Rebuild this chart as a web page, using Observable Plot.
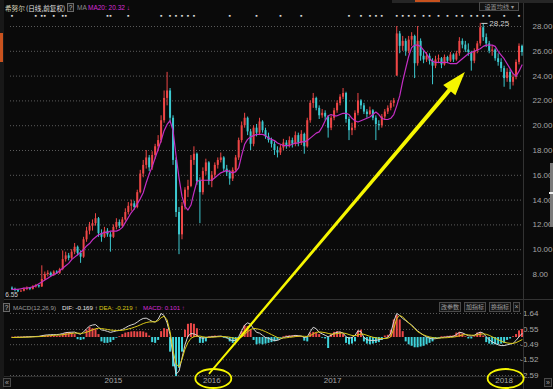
<!DOCTYPE html>
<html><head><meta charset="utf-8">
<script src="https://cdn.jsdelivr.net/npm/d3@7"></script>
<script src="https://cdn.jsdelivr.net/npm/@observablehq/plot@0.6"></script>
<style>
html,body{margin:0;padding:0;background:#0a0a0a;}
#wrap{position:relative;width:553px;height:389px;overflow:hidden;background:#0a0a0a;font-family:"Liberation Sans",Arial,sans-serif;}
.t{position:absolute;white-space:nowrap;line-height:1;}
.box{position:absolute;border:1px solid #4a4a4a;background:#151515;color:#a0a0a0;box-sizing:border-box;text-align:center;white-space:nowrap;}
.q{border-color:#6a6a6a;color:#c0c0c0;background:#1a1a1a;}
#wrap svg{position:absolute;left:0;}
</style></head><body><div id="wrap"></div>
<script>
// ---------- data (one entry per candle) ----------
const open = [6.9,6.8,6.7,6.6,6.65,6.8,6.9,6.8,7.0,7.1,
7.0,7.6,8.0,8.1,7.9,8.2,8.1,8.4,9.2,9.5,
9.3,9.8,10.2,9.7,9.4,10.8,11.5,11.9,12.1,12.5,
11.3,11.0,11.5,11.2,11.0,11.8,12.2,11.9,12.4,13.0,
13.5,13.7,13.4,14.6,16.1,16.8,17.4,16.6,17.6,18.3,
18.8,20.4,22.2,22.8,20.6,17.2,13.0,11.2,13.5,14.8,
15.1,17.2,17.7,15.5,14.6,16.3,17.0,15.5,16.0,16.8,
17.2,17.4,16.5,16.2,15.7,16.4,17.4,18.8,20.0,20.6,
19.5,18.5,19.8,19.4,20.3,19.6,19.1,18.8,18.5,18.0,
17.8,18.2,18.6,18.4,18.8,18.5,19.2,18.6,19.3,18.3,
20.4,21.8,22.2,21.4,20.8,21.0,20.7,19.8,20.6,21.2,
21.8,22.3,22.6,20.5,19.6,19.8,21.0,22.0,21.6,21.1,
20.9,21.2,20.6,20.1,20.0,20.7,21.1,21.4,21.8,24.0,
27.4,26.4,26.8,26.0,26.9,27.2,25.0,26.8,25.6,25.3,
25.6,25.2,24.8,25.3,25.4,24.9,25.5,25.2,25.7,25.3,
25.8,26.8,26.5,26.1,25.9,25.2,26.0,26.6,27.9,27.1,
26.6,26.0,26.1,25.4,25.1,24.6,23.8,24.3,23.5,23.9,
25.1,26.4];
const close = [6.8,6.7,6.6,6.65,6.8,6.9,6.8,7.0,7.1,7.0,
7.6,8.0,8.1,7.9,8.2,8.1,8.4,9.2,9.5,9.3,
9.8,10.2,9.7,9.4,10.8,11.5,11.9,12.1,12.5,11.3,
11.0,11.5,11.2,11.0,11.8,12.2,11.9,12.4,13.0,13.5,
13.7,13.4,14.6,16.1,16.8,17.4,16.6,17.6,18.3,18.8,
20.4,22.2,22.8,20.6,17.2,13.0,11.2,13.5,14.8,15.1,
17.2,17.7,15.5,14.6,16.3,17.0,15.5,16.0,16.8,17.2,
17.4,16.5,16.2,15.7,16.4,17.4,18.8,20.0,20.6,19.5,
18.5,19.8,19.4,20.3,19.6,19.1,18.8,18.5,18.0,17.8,
18.2,18.6,18.4,18.8,18.5,19.2,18.6,19.3,18.3,20.4,
21.8,22.2,21.4,20.8,21.0,20.7,19.8,20.6,21.2,21.8,
22.3,22.6,20.5,19.6,19.8,21.0,22.0,21.6,21.1,20.9,
21.2,20.6,20.1,20.0,20.7,21.1,21.4,21.8,22.0,27.4,
26.4,26.8,26.0,26.9,27.2,25.0,26.8,25.6,25.3,25.6,
25.2,24.8,25.3,25.4,24.9,25.5,25.2,25.7,25.3,25.8,
26.8,26.5,26.1,25.9,25.2,26.0,26.6,27.9,27.1,26.6,
26.0,26.1,25.4,25.1,24.6,23.8,24.3,23.5,23.9,25.1,
26.4,25.9];
const high = [7.0,6.9,6.8,6.75,6.9,7.0,6.95,7.1,7.2,7.15,
8.7,8.2,8.3,8.2,8.3,8.3,8.5,9.9,9.8,9.7,
10.0,10.5,10.3,9.9,11.0,11.8,12.2,12.4,12.9,12.6,
11.6,11.8,11.7,11.4,12.0,12.5,12.4,12.6,13.3,13.8,
14.0,13.9,14.8,16.4,17.2,18.0,17.6,17.9,18.5,19.2,
20.8,22.8,24.3,23.0,20.8,17.4,13.4,13.8,15.0,15.6,
17.6,18.3,17.8,15.8,16.6,17.3,17.1,16.3,17.0,17.4,
17.8,17.5,16.8,16.4,16.6,17.6,19.0,20.3,21.0,20.7,
19.7,20.0,20.1,20.6,20.4,19.8,19.4,19.0,18.7,18.3,
18.4,18.9,18.8,19.1,19.0,19.5,19.4,19.6,19.4,20.6,
22.0,22.6,22.3,21.6,21.3,21.2,20.8,20.8,21.4,22.0,
22.5,23.0,22.7,20.7,20.2,21.2,22.6,22.1,21.8,21.3,
21.5,21.3,20.8,20.4,20.9,21.3,21.6,22.0,22.2,28.0,
27.6,27.2,27.0,27.2,27.5,27.3,28.0,27.0,26.0,25.9,
25.8,25.4,25.6,25.7,25.5,25.7,25.6,25.9,25.8,26.0,
27.1,27.0,26.8,26.6,26.0,26.2,26.8,28.25,28.2,27.4,
26.8,26.4,26.2,25.8,25.4,24.8,24.6,24.5,24.2,25.3,
26.6,26.5];
const low = [6.7,6.6,6.55,6.55,6.6,6.7,6.7,6.75,6.9,6.9,
6.95,7.5,7.8,7.8,7.85,8.0,8.0,8.3,9.0,9.1,
9.2,9.6,9.5,8.9,9.3,10.6,11.2,11.5,11.9,11.0,
10.6,10.9,11.0,9.8,10.9,11.6,11.7,11.8,12.3,12.8,
13.1,13.2,13.3,14.5,15.8,16.5,16.3,16.4,17.3,17.9,
18.6,20.2,21.6,20.2,16.8,12.6,9.6,10.8,13.2,14.2,
15.0,16.8,15.2,12.1,14.4,16.0,15.2,15.0,15.8,16.5,
17.0,16.3,15.9,15.2,15.5,16.2,17.2,18.6,19.8,19.2,
18.0,18.3,19.1,19.2,19.4,18.9,18.6,18.2,17.6,17.4,
17.6,18.0,18.1,18.2,18.2,18.3,18.3,18.4,17.7,18.2,
20.2,21.4,21.2,20.5,20.6,20.4,19.0,19.6,20.4,21.0,
21.6,22.1,20.2,18.8,19.2,19.6,20.8,21.3,20.9,20.6,
20.8,20.4,18.8,19.6,19.8,20.5,20.9,21.2,21.5,24.0,
25.8,26.0,25.6,25.8,26.4,23.8,24.8,25.2,25.0,25.1,
24.9,23.3,24.6,25.0,24.6,24.8,25.0,25.1,25.1,25.2,
25.6,26.2,25.9,25.6,24.4,25.0,25.8,26.4,26.8,26.3,
25.8,25.6,25.2,24.8,24.3,23.1,23.5,22.9,23.2,23.7,
24.9,25.6];
const ma20 = [6.8,6.8,6.8,6.85,6.9,6.9,6.95,7.0,7.1,7.25,
7.4,7.55,7.7,7.85,8.0,8.1,8.3,8.5,8.7,8.9,
9.2,9.4,9.6,9.8,10.0,10.3,10.5,10.8,11.0,11.2,
11.3,11.4,11.4,11.5,11.5,11.5,11.6,11.8,12.2,12.6,
13.0,13.3,13.7,14.1,14.6,15.4,16.1,16.7,17.4,18.1,
18.8,19.6,20.1,20.4,19.6,17.6,15.8,14.3,13.5,13.2,
13.6,14.6,15.5,15.6,15.6,15.6,15.6,15.6,15.8,16.0,
16.2,16.3,16.4,16.3,16.2,16.3,16.6,17.6,18.5,18.9,
19.1,19.2,19.3,19.3,19.3,19.2,19.0,18.9,18.8,18.6,
18.5,18.4,18.4,18.4,18.5,18.6,18.6,18.7,18.7,18.8,
19.0,19.2,19.4,19.5,19.9,20.4,20.8,20.9,20.8,20.8,
20.9,21.0,21.0,20.9,20.6,20.4,20.3,20.4,20.5,20.6,
20.7,20.9,21.1,20.9,20.6,20.5,20.5,20.6,20.9,21.6,
22.4,23.6,24.6,25.6,26.3,26.5,26.5,26.4,26.1,25.8,
25.4,25.2,25.1,25.1,25.1,25.1,25.1,25.0,25.0,25.0,
25.2,25.4,25.6,25.8,25.9,26.0,26.1,26.2,26.4,26.5,
26.5,26.5,26.4,26.0,25.7,25.4,25.0,24.6,24.2,24.0,
24.4,24.9];
const hist = [0.02,0.03,0.03,0.03,0.04,0.05,0.05,0.05,0.06,0.06,
0.1,0.12,0.12,0.1,0.1,0.08,0.1,0.2,0.3,0.34,
0.3,0.2,-0.15,-0.2,-0.15,0.5,0.68,0.6,0.55,0.2,
-0.3,-0.4,-0.4,-0.35,-0.2,-0.05,0.05,0.2,0.3,0.34,
0.38,0.4,0.38,0.4,0.38,0.3,0.1,-0.35,-0.4,-0.2,
0.4,0.6,0.55,-1.0,-2.0,-2.7,-2.1,-1.0,0.5,0.9,
0.95,0.9,0.6,-0.4,-0.4,-0.3,0.05,0.08,0.1,0.08,
0.06,-0.05,-0.1,-0.3,-0.4,-0.35,-0.1,0.4,0.8,0.75,
0.5,-0.2,-0.5,-0.45,-0.5,-0.45,-0.4,-0.35,-0.3,-0.2,
-0.05,0.05,0.1,0.12,0.12,0.14,0.1,0.05,-0.25,-0.3,
0.3,0.35,0.3,0.2,-0.05,-0.1,-0.75,0.2,0.35,0.4,
0.35,0.2,-0.4,-0.5,-0.45,-0.3,0.45,0.5,-0.3,-0.45,
-0.5,-0.45,-0.4,-0.35,-0.2,0.1,0.15,0.5,1.2,1.5,
1.2,0.4,-0.3,-0.5,-0.6,-0.7,-0.7,-0.65,-0.6,-0.5,
-0.4,-0.3,-0.1,-0.05,0.05,0.05,0.08,0.1,0.12,0.3,
0.35,0.25,0.05,-0.1,-0.1,0.05,0.3,0.35,0.1,-0.35,
-0.45,-0.5,-0.5,-0.5,-0.45,-0.4,-0.2,-0.1,0.05,0.2,
0.45,0.55];
const dif = [0,0.01,0.02,0.02,0.03,0.04,0.05,0.06,0.07,0.08,
0.12,0.16,0.18,0.19,0.2,0.2,0.22,0.27,0.33,0.35,
0.36,0.37,0.28,0.22,0.38,0.6,0.78,0.85,0.88,0.7,
0.52,0.48,0.42,0.35,0.4,0.45,0.48,0.55,0.66,0.78,
0.86,0.92,1.05,1.2,1.3,1.32,1.22,1.1,1.05,1.25,
1.64,1.5,1.0,0.2,-1.3,-2.5,-2.3,-1.4,-0.5,0.1,
0.27,0.25,0.15,0,-0.05,0,0.02,0.05,0.06,0.08,
0.1,0.05,0,-0.15,-0.22,-0.18,0.05,0.45,0.85,1.0,
0.9,0.6,0.35,0.3,0.15,0,-0.05,-0.15,-0.2,-0.2,
-0.1,0,0.05,0.08,0.1,0.14,0.12,0.1,0,0.05,
0.4,0.7,0.6,0.35,0.25,0.15,0.05,0.15,0.28,0.36,
0.38,0.3,0.05,-0.05,0,0.15,0.45,0.4,0,-0.15,
-0.2,-0.2,-0.2,-0.15,-0.1,-0.05,0,0.3,1.1,1.64,
1.5,1.3,1.15,1.0,0.85,0.65,0.45,0.3,0.15,0.05,
-0.05,-0.1,-0.08,-0.05,0,0.02,0.04,0.06,0.08,0.2,
0.35,0.32,0.22,0.12,0.1,0.15,0.28,0.36,0.3,0.05,
-0.15,-0.3,-0.4,-0.5,-0.55,-0.55,-0.5,-0.45,-0.4,-0.2,
0.05,0.27];
const dea = [0,0,0.01,0.01,0.02,0.02,0.03,0.04,0.05,0.06,
0.07,0.09,0.11,0.13,0.15,0.16,0.17,0.19,0.22,0.25,
0.28,0.3,0.3,0.28,0.3,0.36,0.44,0.52,0.6,0.63,
0.61,0.58,0.55,0.51,0.49,0.48,0.48,0.49,0.53,0.58,
0.63,0.7,0.77,0.86,0.95,1.02,1.06,1.07,1.07,1.15,
1.35,1.45,1.2,0.4,-0.9,-1.8,-2.0,-1.5,-0.8,-0.35,
-0.05,0.05,0.1,0.1,0.05,0.02,0.01,0.02,0.03,0.05,
0.06,0.06,0.05,0.02,-0.03,-0.07,-0.06,0.03,0.2,0.4,
0.55,0.62,0.6,0.55,0.48,0.4,0.3,0.2,0.1,0,
-0.05,-0.04,-0.02,0.01,0.03,0.06,0.08,0.09,0.08,0.07,
0.12,0.25,0.35,0.38,0.36,0.33,0.28,0.24,0.24,0.27,
0.3,0.31,0.27,0.2,0.14,0.12,0.18,0.24,0.22,0.15,
0.08,0.02,-0.02,-0.05,-0.07,-0.07,-0.05,0.05,0.6,1.3,
1.5,1.4,1.2,1.0,0.8,0.6,0.4,0.28,0.18,0.1,
0.04,0,-0.03,-0.04,-0.03,-0.02,-0.01,0.01,0.03,0.06,
0.12,0.17,0.2,0.18,0.16,0.15,0.18,0.22,0.25,0.22,
0.15,0.05,-0.05,-0.15,-0.25,-0.32,-0.37,-0.4,-0.4,-0.35,
-0.25,-0.15];
const priceTicks = [8,10,12,14,16,18,20,22,24,26,28];
const macdTicks = [1.64,0.55,-0.49,-1.52,-2.59];
const macdTickLabels = ["1.64","0.55","-0.49","-1.52","-2.59"];
const yearTicks = [34,67,107.5,165];
const yearLabels = ["2015","2016","2017","2018"];
const eventIdx = [0,8,10,11,14,17,18,32,33,39,50,53,55,57,59,61,73,82,90,97,113,117,120,122,124,129,131,133,135,138,140,143,146,149,151,154,156,158,160,165,170];
const arrowFrom = [66.2, -0.06];   // [candle index, price]
const arrowTo = [152, 24.3];
const ellipseYears = ["2016","2018"];

// ---------- drawing ----------
const wrap = document.getElementById("wrap");
const N = close.length;
const idx = d3.range(N);
const xDomain = [-0.5, N - 0.5];
const narrow = "'Liberation Sans Narrow','Liberation Sans',Arial,sans-serif";
const up = "#ee4646", down = "#3cc8cf";
const candleColor = i => close[i] >= open[i] ? up : down;
const peakValue = d3.max(high), peakIdx = high.indexOf(peakValue);
const lowValue = d3.min(low), lowIdx = low.indexOf(lowValue);
const tickFill = "#a6a6a6";
const grid = {stroke: "#5c5c5c", strokeOpacity: 1, strokeDasharray: "1,2"};

const main = Plot.plot({
  width: 553, height: 300,
  marginLeft: 10, marginRight: 30, marginTop: 15, marginBottom: 2,
  style: {background: "transparent", color: tickFill, fontSize: "8px", fontFamily: narrow, overflow: "visible"},
  x: {domain: xDomain, axis: null},
  y: {domain: [6.065, 28.887], axis: null},
  marks: [
    Plot.gridY(priceTicks, grid),
    Plot.text(priceTicks, {y: d => d, frameAnchor: "right", dx: 9, textAnchor: "start", text: d => d.toFixed(2), fill: tickFill, fontSize: 8}),
    Plot.ruleX(idx, {x: i => i, y1: i => low[i], y2: i => high[i], stroke: candleColor, strokeWidth: 1}),
    Plot.ruleX(idx, {x: i => i, y1: i => open[i], y2: i => close[i], stroke: candleColor, strokeWidth: 2}),
    Plot.line(idx, {x: i => i, y: i => ma20[i], stroke: "#c42ec4", strokeWidth: 1.2}),
    Plot.text(eventIdx, {x: d => d, frameAnchor: "top", dy: -2, text: () => "▪", fill: "#d8d8d8", fontSize: 7}),
    Plot.ruleY([peakValue], {x1: () => peakIdx + 0.5, x2: () => peakIdx + 2.6, stroke: "#d0d0d0"}),
    Plot.text([peakValue], {x: () => peakIdx, y: d => d, dx: 9, textAnchor: "start", text: d => d.toFixed(2), fill: "#d0d0d0", fontSize: 8}),
    Plot.text([lowValue], {x: () => lowIdx, y: d => d, dx: 0, dy: 2, textAnchor: "end", text: d => d.toFixed(2), fill: "#d0d0d0", fontSize: 6.5})
  ]
});
main.style.top = "0px";
wrap.appendChild(main);

const macd = Plot.plot({
  width: 553, height: 89,
  marginLeft: 10, marginRight: 30, marginTop: 0, marginBottom: 13,
  style: {background: "transparent", color: tickFill, fontSize: "8px", fontFamily: narrow, overflow: "visible"},
  x: {domain: xDomain, axis: null},
  y: {domain: [-2.66, 2.524], axis: null},
  marks: [
    Plot.gridY(macdTicks, grid),
    Plot.text(macdTicks, {y: d => d, frameAnchor: "right", dx: 15, textAnchor: "end", text: (d, i) => macdTickLabels[i], fill: tickFill, fontSize: 8}),
    Plot.ruleX(idx, {x: i => i, y1: () => 0, y2: i => hist[i], stroke: i => hist[i] >= 0 ? "#ec4848" : "#3ed4dc", strokeWidth: 2}),
    Plot.line(idx, {x: i => i, y: i => dif[i], stroke: "#d6d6d6", strokeWidth: 1}),
    Plot.line(idx, {x: i => i, y: i => dea[i], stroke: "#d9c816", strokeWidth: 1}),
    Plot.text(yearTicks, {x: d => d, frameAnchor: "bottom", dy: 6.5, text: (d, i) => yearLabels[i], fill: tickFill, fontSize: 8})
  ]
});
macd.style.top = "300px";
wrap.appendChild(macd);

// ---------- chrome & labels ----------
function div(cls, css, text) {
  const e = document.createElement("div");
  e.className = cls;
  e.style.cssText = css;
  if (text != null) e.textContent = text;
  wrap.appendChild(e);
  return e;
}
div("", "position:absolute;left:523px;top:0;width:1px;height:389px;background:#333;");
div("", "position:absolute;left:0;top:299px;width:553px;height:1px;background:#333;");
div("", "position:absolute;left:0;top:376px;width:523px;height:1px;background:#2c2c2c;");
div("", "position:absolute;left:0;top:0;width:4px;height:389px;background:#181818;");
div("", "position:absolute;left:0;top:33px;width:3px;height:29px;background:#c8521e;");
div("", "position:absolute;left:392px;top:0;width:161px;height:3px;background:#262626;");
div("", "position:absolute;left:415px;top:0;width:25px;height:2px;background:#c8521e;");
div("", "position:absolute;left:550px;top:163px;width:3px;height:64px;background:#7a7a7a;");
div("", "position:absolute;left:549px;top:192px;width:4px;height:2px;background:#eee;");

const cjk = "'Noto Sans CJK SC','Noto Sans',sans-serif";
div("t", `left:5px;top:3px;font:6.6px ${cjk};color:#d6d2b8;`, "希努尔");
div("t", `left:26px;top:3px;font:6.6px ${cjk};color:#e2e2e2;`, "(日线,前复权)");
div("box q", "left:67px;top:3px;width:7px;height:9px;font:6.5px 'Liberation Sans';line-height:7px;", "?");
div("t", "left:77px;top:4px;font:6.5px 'Liberation Sans';color:#8c8c8c;", "MA");
div("t", "left:88px;top:4px;font:6.5px 'Liberation Sans';color:#d62bd6;", "MA20: 20.32 ↓");
div("box", `left:479px;top:2px;width:40px;height:9px;font:6.2px ${cjk};line-height:7px;color:#9a9a9a;background:#121212;`, "设置均线 ▾");

div("box q", "left:3px;top:303px;width:7px;height:9px;font:6.5px 'Liberation Sans';line-height:7px;", "?");
div("t", "left:13px;top:304px;font:6.2px 'Liberation Sans';color:#9c9c9c;", "MACD(12,26,9)");
div("t", "left:62px;top:304px;font:6.2px 'Liberation Sans';color:#e6e6e6;", "DIF: -0.169 ↑");
div("t", "left:99px;top:304px;font:6.2px 'Liberation Sans';color:#d9c816;", "DEA: -0.219 ↑");
div("t", "left:143px;top:304px;font:6.2px 'Liberation Sans';color:#d62bd6;", "MACD: 0.101 ↑");
div("box", `left:439px;top:302px;width:22px;height:10px;font:6px ${cjk};line-height:8px;`, "改参数");
div("box", `left:464px;top:302px;width:22px;height:10px;font:6px ${cjk};line-height:8px;`, "加指标");
div("box", `left:489px;top:302px;width:22px;height:10px;font:6px ${cjk};line-height:8px;`, "换指标");
div("box", "left:513px;top:302px;width:7px;height:10px;font:7px 'Liberation Sans';line-height:8px;", "×");
div("box", "left:3px;top:378px;width:8px;height:9px;font:7px 'Liberation Sans';line-height:7px;", "«");
div("box", "left:544px;top:378px;width:8px;height:9px;font:7px 'Liberation Sans';line-height:7px;", "»");

// ---------- yellow annotation (arrow + ellipses) through the plots' scales ----------
function scaleFn(plot, name) {
  const s = plot.scale(name);
  return s.apply ? (v => s.apply(v)) : d3.scaleLinear(s.domain, s.range);
}
const sx = scaleFn(main, "x"), sy = scaleFn(main, "y"), mx = scaleFn(macd, "x");
const over = d3.create("svg").attr("width", 553).attr("height", 389)
  .style("position", "absolute").style("top", "0px").style("left", "0px").style("pointer-events", "none");
const yellow = "#f6f600";
ellipseYears.forEach(y => {
  const k = yearLabels.indexOf(y);
  over.append("ellipse")
    .attr("cx", mx(yearTicks[k]) + 2).attr("cy", 300 + 76 + 2.5)
    .attr("rx", 18).attr("ry", 9.5)
    .attr("fill", "none").attr("stroke", yellow).attr("stroke-width", 1.8);
});
const p0 = [sx(arrowFrom[0]), sy(arrowFrom[1])];
const p1 = [sx(arrowTo[0]), sy(arrowTo[1])];
const dx = p1[0] - p0[0], dy = p1[1] - p0[1], len = Math.hypot(dx, dy);
const ux = dx / len, uy = dy / len, nx = -uy, ny = ux;
const headLen = 24, headW = 8, w0 = 0.9, w1 = 2.1;
const hb = [p1[0] - ux * headLen, p1[1] - uy * headLen];
const pts = [
  [p0[0] + nx * w0, p0[1] + ny * w0],
  [hb[0] + nx * w1, hb[1] + ny * w1],
  [hb[0] + nx * headW, hb[1] + ny * headW],
  p1,
  [hb[0] - nx * headW, hb[1] - ny * headW],
  [hb[0] - nx * w1, hb[1] - ny * w1],
  [p0[0] - nx * w0, p0[1] - ny * w0]
];
over.append("polygon").attr("points", pts.map(p => p.join(",")).join(" ")).attr("fill", yellow);
wrap.appendChild(over.node());
</script></body></html>
